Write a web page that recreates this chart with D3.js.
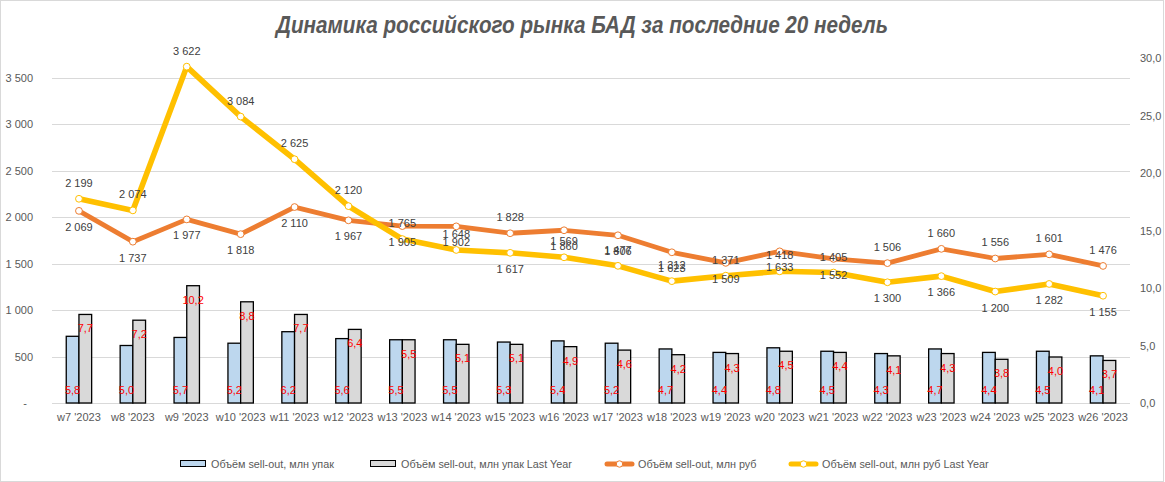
<!DOCTYPE html>
<html>
<head>
<meta charset="utf-8">
<script src="https://cdn.jsdelivr.net/npm/d3@7"></script>
<style>
  body { margin: 0; background: #fff; }
  text { font-family: "Liberation Sans", Arial, sans-serif; }
</style>
</head>
<body>
<div id="chart"></div>
<script>
// Weekly sell-out chart: bars on right axis (mln packs), lines on left axis (mln rub)

// 1. Data
var weeks = ["w7 '2023", "w8 '2023", "w9 '2023", "w10 '2023", "w11 '2023", "w12 '2023", "w13 '2023",
  "w14 '2023", "w15 '2023", "w16 '2023", "w17 '2023", "w18 '2023", "w19 '2023", "w20 '2023",
  "w21 '2023", "w22 '2023", "w23 '2023", "w24 '2023", "w25 '2023", "w26 '2023"];

var packs = [5.8, 5.0, 5.7, 5.2, 6.2, 5.6, 5.5, 5.5, 5.3, 5.4, 5.2, 4.7, 4.4, 4.8, 4.5, 4.3, 4.7, 4.4, 4.5, 4.1];
var packsLY = [7.7, 7.2, 10.2, 8.8, 7.7, 6.4, 5.5, 5.1, 5.1, 4.9, 4.6, 4.2, 4.3, 4.5, 4.4, 4.1, 4.3, 3.8, 4.0, 3.7];
var rub = [2069, 1737, 1977, 1818, 2110, 1967, 1905, 1902, 1828, 1860, 1806, 1623, 1509, 1633, 1552, 1506, 1660, 1556, 1601, 1476];
var rubLY = [2199, 2074, 3622, 3084, 2625, 2120, 1765, 1648, 1617, 1569, 1477, 1312, 1371, 1418, 1405, 1300, 1366, 1200, 1282, 1155];

var leftTicks = [0, 500, 1000, 1500, 2000, 2500, 3000, 3500];
var rightTicks = [0, 5, 10, 15, 20, 25, 30];

var seriesNames = ['Объём sell-out, млн упак', 'Объём sell-out, млн упак Last Year',
  'Объём sell-out, млн руб', 'Объём sell-out, млн руб Last Year'];
var title = 'Динамика российского рынка БАД за последние 20 недель';

// weeks where the rub labels swap sides (current above, last year below)
var swapLabels = [8, 15, 16, 17, 18, 19];

// 2. SVG
var svgWidth = 1165;
var svgHeight = 482;
var plot = { left: 52, right: 1130, top: 58, bottom: 403 };

var colors = {
  packs: '#bdd7ee', packsLY: '#d9d9d9', rub: '#ed7d31', rubLY: '#ffc000',
  grid: '#d9d9d9', axisText: '#595959', label: '#404040', red: '#ff0000'
};

var svg = d3.select('#chart')
  .append('svg')
  .attr('width', svgWidth)
  .attr('height', svgHeight);

svg.append('rect')
  .attr('x', 0.5).attr('y', 0.5)
  .attr('width', svgWidth - 2).attr('height', svgHeight - 1)
  .attr('fill', '#fff')
  .attr('stroke', '#d9d9d9');

// 3. Number formats (space thousands, comma decimal)
var ru = d3.formatLocale({ decimal: ',', thousands: '\u00a0', grouping: [3], currency: ['', ''] });
var fmtInt = ru.format(',.0f');
var fmtDec = ru.format('.1f');

// 4. Scales
var x = d3.scaleBand()
  .domain(weeks)
  .range([plot.left, plot.right]);

var barW = 12.7;
var xSub = d3.scaleBand()
  .domain(['packs', 'packsLY'])
  .range([x.bandwidth() / 2 - barW, x.bandwidth() / 2 + barW]);

var yLeft = d3.scaleLinear()
  .domain([0, 3715])
  .range([plot.bottom, plot.top]);

var yRight = d3.scaleLinear()
  .domain([0, 30])
  .range([plot.bottom, plot.top]);

// 5. Gridlines
svg.append('g')
  .selectAll('line')
  .data(leftTicks)
  .enter()
  .append('line')
  .attr('x1', plot.left)
  .attr('x2', plot.right)
  .attr('y1', d => Math.round(yLeft(d)) + 0.5)
  .attr('y2', d => Math.round(yLeft(d)) + 0.5)
  .attr('stroke', colors.grid)
  .attr('stroke-width', 1);

// 6. Axes
var leftAxis = svg.append('g')
  .attr('transform', `translate(${plot.left}, 0)`)
  .call(d3.axisLeft(yLeft)
    .tickValues(leftTicks)
    .tickSize(0)
    .tickPadding(19)
    .tickFormat(d => d === 0 ? '-' : fmtInt(d)));

var rightAxis = svg.append('g')
  .attr('transform', `translate(${plot.right}, 0)`)
  .call(d3.axisRight(yRight)
    .tickValues(rightTicks)
    .tickSize(0)
    .tickPadding(10)
    .tickFormat(fmtDec));

var xAxis = svg.append('g')
  .attr('transform', `translate(0, ${plot.bottom})`)
  .call(d3.axisBottom(x).tickSize(0).tickPadding(10));

[leftAxis, rightAxis, xAxis].forEach(function(g) {
  g.select('.domain').remove();
  g.selectAll('text')
    .attr('fill', colors.axisText)
    .attr('font-size', '11px')
    .attr('font-family', '"Liberation Sans", Arial, sans-serif');
});
leftAxis.selectAll('text').filter(d => d === 0).attr('dx', -6);

// 7. Bars
var barData = weeks.map((w, i) => ({ week: w, packs: packs[i], packsLY: packsLY[i] }));

var barGroups = svg.append('g')
  .selectAll('g')
  .data(barData)
  .enter()
  .append('g')
  .attr('transform', d => `translate(${x(d.week)}, 0)`);

['packs', 'packsLY'].forEach(function(key) {
  barGroups.append('rect')
    .attr('x', xSub(key))
    .attr('width', xSub.bandwidth())
    .attr('y', d => yRight(d[key]))
    .attr('height', d => yRight(0) - yRight(d[key]))
    .attr('fill', colors[key])
    .attr('stroke', '#000')
    .attr('stroke-width', 1.3);
});

// bar labels: current year inside base, last year inside end
barGroups.append('text')
  .attr('x', xSub('packs') + xSub.bandwidth() / 2)
  .attr('y', plot.bottom - 9)
  .attr('text-anchor', 'middle')
  .attr('font-size', '11px')
  .attr('fill', colors.red)
  .text(d => fmtDec(d.packs));

barGroups.append('text')
  .attr('x', xSub('packsLY') + xSub.bandwidth() / 2)
  .attr('y', d => yRight(d.packsLY) + 18)
  .attr('text-anchor', 'middle')
  .attr('font-size', '11px')
  .attr('fill', colors.red)
  .text(d => fmtDec(d.packsLY));

// 8. Lines
var cx = w => x(w) + x.bandwidth() / 2;

function drawLine(values, color, width) {
  var pts = weeks.map((w, i) => ({ week: w, value: values[i], i: i }));

  svg.append('path')
    .datum(pts)
    .attr('fill', 'none')
    .attr('stroke', color)
    .attr('stroke-width', width)
    .attr('stroke-linejoin', 'round')
    .attr('stroke-linecap', 'round')
    .attr('d', d3.line().x(d => cx(d.week)).y(d => yLeft(d.value)));

  svg.append('g')
    .selectAll('circle')
    .data(pts)
    .enter()
    .append('circle')
    .attr('cx', d => cx(d.week))
    .attr('cy', d => yLeft(d.value))
    .attr('r', 3.4)
    .attr('fill', '#fff')
    .attr('stroke', color)
    .attr('stroke-width', 1);

  return pts;
}

var rubPts = drawLine(rub, colors.rub, 4.8);
var rubLYPts = drawLine(rubLY, colors.rubLY, 5.6);

function drawLabels(pts, above) {
  svg.append('g')
    .selectAll('text')
    .data(pts)
    .enter()
    .append('text')
    .attr('x', d => cx(d.week))
    .attr('y', function(d) {
      var up = swapLabels.indexOf(d.i) >= 0 ? !above : above;
      return up ? yLeft(d.value) - 12 : yLeft(d.value) + 20;
    })
    .attr('text-anchor', 'middle')
    .attr('font-size', '11px')
    .attr('fill', colors.label)
    .text(d => fmtInt(d.value));
}

drawLabels(rubPts, false);
drawLabels(rubLYPts, true);

// 9. Title
svg.append('text')
  .attr('x', 582)
  .attr('y', 33)
  .attr('text-anchor', 'middle')
  .attr('font-size', '24px')
  .attr('font-weight', 'bold')
  .attr('font-style', 'italic')
  .attr('fill', '#595959')
  .attr('textLength', 612)
  .attr('lengthAdjust', 'spacingAndGlyphs')
  .text(title);

// 10. Legend
var legendX = [180, 370, 605, 789];
var legendY = 464;
var legend = svg.append('g');

[colors.packs, colors.packsLY].forEach(function(fill, i) {
  legend.append('rect')
    .attr('x', legendX[i] + 0.5)
    .attr('y', legendY - 3.5)
    .attr('width', 25)
    .attr('height', 6)
    .attr('fill', fill)
    .attr('stroke', '#000')
    .attr('stroke-width', 1);
});

[colors.rub, colors.rubLY].forEach(function(c, j) {
  var lx = legendX[j + 2];
  legend.append('line')
    .attr('x1', lx + 2).attr('x2', lx + 27)
    .attr('y1', legendY).attr('y2', legendY)
    .attr('stroke', c)
    .attr('stroke-width', 5)
    .attr('stroke-linecap', 'round');
  legend.append('circle')
    .attr('cx', lx + 14.5).attr('cy', legendY)
    .attr('r', 3.2)
    .attr('fill', '#fff')
    .attr('stroke', c);
});

legend.selectAll('.legText')
  .data(seriesNames)
  .enter()
  .append('text')
  .classed('legText', true)
  .attr('x', (d, i) => legendX[i] + (i < 2 ? 31 : 33))
  .attr('y', legendY + 3.8)
  .attr('font-size', '10.8px')
  .attr('fill', colors.axisText)
  .text(d => d);
</script>
</body>
</html>
